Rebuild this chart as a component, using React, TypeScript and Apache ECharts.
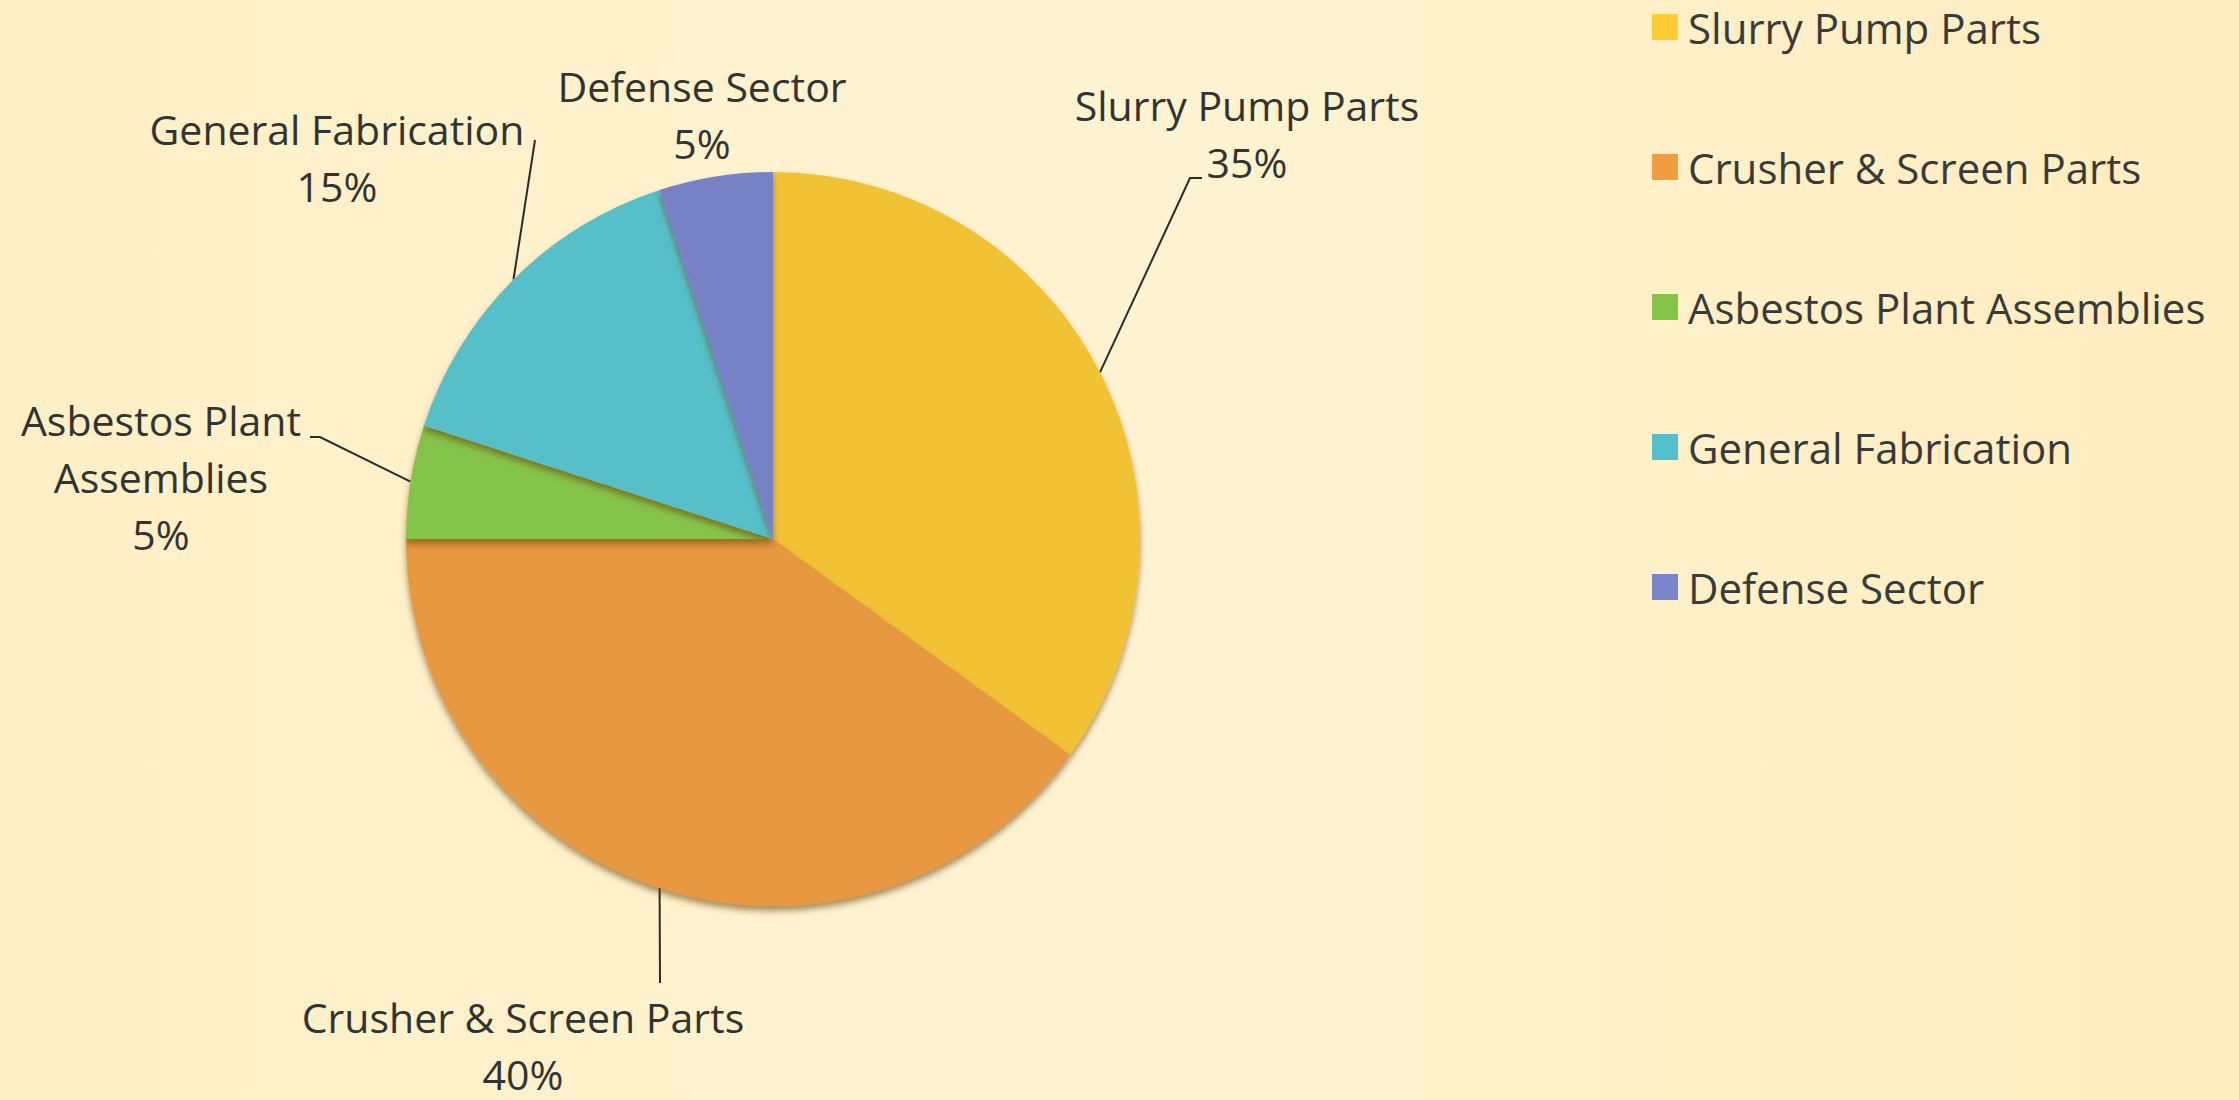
import React, { useEffect, useRef } from "react";
import * as echarts from "echarts";

const categories = [
  "Slurry Pump Parts",
  "Crusher & Screen Parts",
  "Asbestos Plant Assemblies",
  "General Fabrication",
  "Defense Sector",
];
const labelNames = [
  "Slurry Pump Parts",
  "Crusher & Screen Parts",
  "Asbestos Plant\nAssemblies",
  "General Fabrication",
  "Defense Sector",
];
const shares = [35, 40, 5, 15, 5];
const sliceColors = ["#F2C234", "#E8983F", "#85C44B", "#56BFC7", "#7681C6"];
const legendColors = ["#FFCC33", "#F29E40", "#84C547", "#52C1CC", "#7985CA"];

// label layout (text block centres) and leader-line end points
const labelCenters: number[][] = [
  [1247, 133],
  [523, 1045],
  [161, 477],
  [337, 157],
  [702, 114],
];
const leaderEnds: number[][][] = [
  [[1190, 178], [1202, 178]],
  [[660, 983]],
  [[320, 437], [310, 437]],
  [[535, 140]],
  [],
];

export default function App() {
  const ref = useRef<HTMLDivElement>(null);
  useEffect(() => {
    if (!ref.current) return;
    const chart = echarts.init(ref.current, null, { renderer: "svg" });
    const font = "'Open Sans', 'DejaVu Sans', sans-serif";
    chart.setOption({
      animation: false,
      backgroundColor: new echarts.graphic.LinearGradient(0, 0, 1, 0, [
        { offset: 0, color: "#FEEFC5" },
        { offset: 0.5, color: "#FFF3D2" },
        { offset: 1, color: "#FFEDBF" },
      ]),
      legend: {
        orient: "vertical",
        left: 1652,
        top: 6,
        padding: 0,
        itemWidth: 26,
        itemHeight: 26,
        itemGap: 98,
        icon: "rect",
        textStyle: {
          fontFamily: font,
          fontSize: 42,
          lineHeight: 42,
          color: "#3a3a3a",
          padding: [0, 0, 0, 5],
        },
        data: categories.map((name, i) => ({
          name,
          itemStyle: { color: legendColors[i] },
        })),
      },
      series: [
        {
          type: "pie",
          center: [773, 539],
          radius: 367,
          startAngle: 90,
          clockwise: true,
          avoidLabelOverlap: false,
          itemStyle: {
            shadowBlur: 6,
            shadowOffsetY: 5,
            shadowColor: "rgba(100,60,0,0.55)",
          },
          label: {
            show: true,
            fontFamily: font,
            fontSize: 41,
            lineHeight: 57,
            color: "#333333",
            align: "center",
            formatter: (p: any) => labelNames[p.dataIndex] + "\n" + p.value + "%",
          },
          labelLine: {
            show: true,
            smooth: false,
            lineStyle: { color: "#2b2b2b", width: 2 },
          },
          labelLayout: (params: any) => {
            const i = params.dataIndex;
            const c = labelCenters[i];
            const res: any = {
              x: c[0],
              y: c[1],
              align: "center",
              verticalAlign: "middle",
            };
            const ends = leaderEnds[i];
            if (ends.length && params.labelLinePoints) {
              res.labelLinePoints = [params.labelLinePoints[0], ...ends];
            }
            return res;
          },
          data: categories.map((name, i) => ({
            name,
            value: shares[i],
            itemStyle: { color: sliceColors[i] },
            labelLine: { show: leaderEnds[i].length > 0 },
          })),
        },
      ],
    });
    return () => chart.dispose();
  }, []);
  return (
    <div
      ref={ref}
      style={{ position: "fixed", left: 0, top: 0, width: 2239, height: 1100 }}
    />
  );
}
